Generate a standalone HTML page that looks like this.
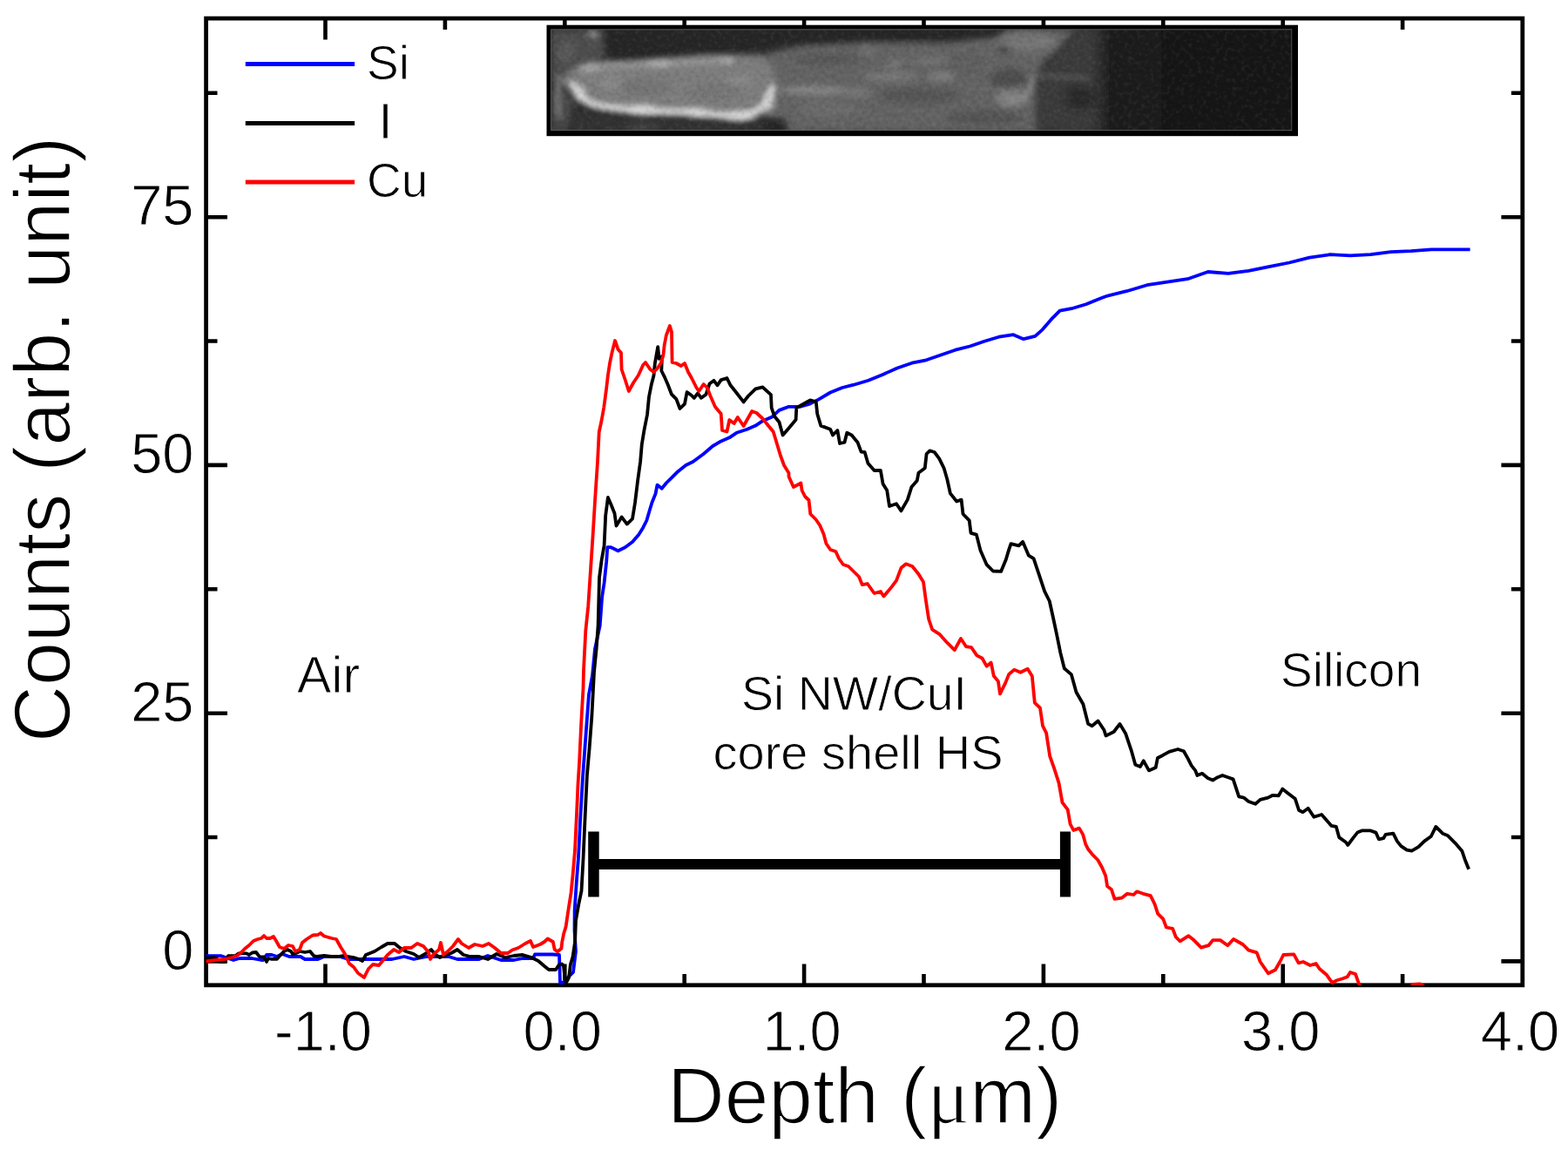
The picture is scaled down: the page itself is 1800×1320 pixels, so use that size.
<!DOCTYPE html>
<html><head><meta charset="utf-8"><title>Depth profile</title>
<style>html,body{margin:0;padding:0;background:#fff;overflow:hidden;}svg{display:block;}text{font-family:'Liberation Sans', Arial, Helvetica, sans-serif;fill:#000;stroke:#fff;stroke-width:0.9px;} text.big{stroke-width:1.5px;}</style></head><body>
<svg width="1800" height="1320" viewBox="0 0 1800 1320">
<defs>
<clipPath id="plot"><rect x="236.6" y="21.1" width="1511.2" height="1109.7"/></clipPath>
<filter id="f2" filterUnits="userSpaceOnUse" x="600" y="0" width="950" height="200"><feGaussianBlur stdDeviation="2"/></filter>
<filter id="f3" filterUnits="userSpaceOnUse" x="600" y="0" width="950" height="200"><feGaussianBlur stdDeviation="3"/></filter>
<filter id="f4" filterUnits="userSpaceOnUse" x="600" y="0" width="950" height="200"><feGaussianBlur stdDeviation="4"/></filter>
<filter id="f7" filterUnits="userSpaceOnUse" x="600" y="0" width="950" height="200"><feGaussianBlur stdDeviation="7"/></filter>
<filter id="noiseL" filterUnits="userSpaceOnUse" x="620" y="25" width="880" height="135"><feTurbulence type="fractalNoise" baseFrequency="0.2" numOctaves="2" seed="7"/><feColorMatrix type="matrix" values="0 0 0 0 1  0 0 0 0 1  0 0 0 0 1  2.5 0 0 0 -1.25"/></filter>
<filter id="noiseD" filterUnits="userSpaceOnUse" x="620" y="25" width="880" height="135"><feTurbulence type="fractalNoise" baseFrequency="0.2" numOctaves="2" seed="7"/><feColorMatrix type="matrix" values="0 0 0 0 0  0 0 0 0 0  0 0 0 0 0  -2.5 0 0 0 1.25"/></filter>
<linearGradient id="tipfade" x1="0" x2="1" y1="0" y2="0"><stop offset="0" stop-color="#1c1c1c" stop-opacity="0"/><stop offset="1" stop-color="#1c1c1c" stop-opacity="1"/></linearGradient>
<clipPath id="semclip"><rect x="633" y="34.2" width="849.5" height="115"/></clipPath>
</defs>
<rect x="0" y="0" width="1800" height="1320" fill="#fff"/>
<path d="M373.5,1130.8V1106.4M373.5,21.1V45.5M510.9,1130.8V1117.9M510.9,21.1V34.0M648.3,1130.8V1106.4M648.3,21.1V45.5M785.7,1130.8V1117.9M785.7,21.1V34.0M923.1,1130.8V1106.4M923.1,21.1V45.5M1060.5,1130.8V1117.9M1060.5,21.1V34.0M1197.9,1130.8V1106.4M1197.9,21.1V45.5M1335.3,1130.8V1117.9M1335.3,21.1V34.0M1472.7,1130.8V1106.4M1472.7,21.1V45.5M1610.1,1130.8V1117.9M1610.1,21.1V34.0M236.6,1103.4H261.0M1747.8,1103.4H1723.4M236.6,961.0H249.5M1747.8,961.0H1734.9M236.6,818.7H261.0M1747.8,818.7H1723.4M236.6,676.3H249.5M1747.8,676.3H1734.9M236.6,533.9H261.0M1747.8,533.9H1723.4M236.6,391.5H249.5M1747.8,391.5H1734.9M236.6,249.2H261.0M1747.8,249.2H1723.4M236.6,106.8H249.5M1747.8,106.8H1734.9" stroke="#000" stroke-width="4.6" fill="none"/>
<rect x="236.6" y="21.1" width="1511.2" height="1109.7" fill="none" stroke="#000" stroke-width="4.8"/>
<g id="sem">
<rect x="627.5" y="28.7" width="862.5" height="127.5" fill="#000"/>
<rect x="632.2" y="33.4" width="851" height="116.6" fill="#666"/>
<g clip-path="url(#semclip)">
<g filter="url(#f2)">
<rect x="620" y="25" width="880" height="135" fill="#2c2c2c"/>
<path d="M880,62 L920,52 L1000,48 L1090,48 L1145,42 L1160,34 L1236,33 L1214,60 L1200,70 L1192,90 L1195,152 L880,152 Z" fill="#646464" filter="url(#f3)"/>
<path d="M633,34 L694,34 L694,62 L686,72 L668,78 L648,86 L633,92 Z" fill="#4e4e4e" filter="url(#f3)"/>
<ellipse cx="681" cy="39" rx="7" ry="4" fill="#858585" filter="url(#f2)"/>
<ellipse cx="650" cy="60" rx="10" ry="12" fill="#5a5a5a" filter="url(#f3)"/>
<path d="M640,92 L652,82 L668,74 L700,69 L760,66 L810,62 L850,62 L880,64 L892,90 L890,125 L870,134 L840,136 L800,133 L760,131 L720,128 L690,124 L672,118 L660,108 L648,100 Z" fill="#7c7c7c" filter="url(#f3)"/>
<g filter="url(#f3)">
<ellipse cx="740" cy="100" rx="30" ry="9" fill="#737373"/>
<ellipse cx="820" cy="105" rx="30" ry="9" fill="#747474"/>
<ellipse cx="700" cy="95" rx="14" ry="8" fill="#888"/>
<ellipse cx="850" cy="92" rx="18" ry="7" fill="#868686"/>
</g>
<path d="M664,80 C690,76 720,74 760,73 C790,72 815,69 842,69" fill="none" stroke="#939393" stroke-width="8" filter="url(#f2)"/>
<ellipse cx="678" cy="78" rx="9" ry="5" fill="#a2a2a2" filter="url(#f2)"/>
<ellipse cx="757" cy="73" rx="14" ry="4" fill="#aaa" filter="url(#f2)"/>
<ellipse cx="835" cy="70" rx="8" ry="4" fill="#a0a0a0" filter="url(#f2)"/>
<path d="M656,94 C660,104 667,113 680,119 C695,124 712,124 728,126 C745,128 762,128 790,128 C810,130 828,133 848,133 C862,132 872,127 879,119 C884,111 886,104 887,98" fill="none" stroke="#d0d0d0" stroke-width="8" filter="url(#f2)"/>
<g filter="url(#f3)" fill="#d8d8d8">
<ellipse cx="666" cy="107" rx="5" ry="9"/>
<ellipse cx="738" cy="126" rx="16" ry="5"/>
<ellipse cx="800" cy="130" rx="12" ry="4"/>
<ellipse cx="850" cy="133" rx="16" ry="5"/>
<ellipse cx="882" cy="117" rx="4" ry="11"/>
</g>
<path d="M633,100 L655,104 L660,118 L652,152 L633,152 Z" fill="#464646" filter="url(#f3)"/>
<path d="M637,86 L643,86 L645,135 L638,135 Z" fill="#747474" filter="url(#f2)"/>
<path d="M658,126 L690,131 L722,134 L760,135 L795,136 L815,139 L840,142 L870,141 L884,137 L898,140 L904,152 L652,152 Z" fill="#303030" filter="url(#f2)"/>
<ellipse cx="738" cy="146" rx="20" ry="5" fill="#424242" filter="url(#f3)"/>
<ellipse cx="890" cy="144" rx="14" ry="9" fill="#262626" filter="url(#f3)"/>
<g filter="url(#f3)">
<ellipse cx="950" cy="68" rx="40" ry="6" fill="#565656"/>
<ellipse cx="996" cy="58" rx="10" ry="6" fill="#707070"/>
<ellipse cx="1027" cy="73" rx="10" ry="4" fill="#7a7a7a"/>
<ellipse cx="1066" cy="70" rx="22" ry="4" fill="#747474"/>
<ellipse cx="935" cy="104" rx="40" ry="5" fill="#888"/>
<ellipse cx="985" cy="106" rx="16" ry="4" fill="#7e7e7e"/>
<ellipse cx="1022" cy="88" rx="32" ry="4" fill="#7e7e7e"/>
<ellipse cx="1080" cy="88" rx="16" ry="4" fill="#868686"/>
<ellipse cx="1055" cy="110" rx="48" ry="10" fill="#575757"/>
<ellipse cx="950" cy="125" rx="35" ry="8" fill="#6c6c6c"/>
<ellipse cx="1060" cy="135" rx="40" ry="7" fill="#636363"/>
<ellipse cx="1110" cy="72" rx="20" ry="12" fill="#5e5e5e"/>
<ellipse cx="1180" cy="48" rx="35" ry="11" fill="#747474"/>
<ellipse cx="1153" cy="57" rx="6" ry="6" fill="#474747"/>
<ellipse cx="1158" cy="90" rx="22" ry="11" fill="#4d4d4d"/>
<ellipse cx="1162" cy="112" rx="20" ry="10" fill="#7e7e7e"/>
<ellipse cx="1130" cy="135" rx="45" ry="9" fill="#545454"/>
</g>
<path d="M1150,118 C1165,118 1178,112 1183,102 C1186,96 1185,90 1186,86" fill="none" stroke="#868686" stroke-width="6" filter="url(#f2)"/>
<path d="M1236,33 L1214,60 L1200,72 L1190,90 L1188,152 L1272,152 L1272,33 Z" fill="#3b3b3b" filter="url(#f4)"/>
<ellipse cx="1240" cy="112" rx="18" ry="14" fill="#2b2b2b" filter="url(#f4)"/>
<path d="M1186,87 C1205,87 1230,88 1250,90" fill="none" stroke="#5c5c5c" stroke-width="4" filter="url(#f2)"/>
<path d="M694,34 L1150,34 L1140,40 L1090,46 L1000,45 L960,47 L920,49 L880,52 L850,60 L810,60 L760,64 L720,68 L700,68 Z" fill="#282828" filter="url(#f3)"/>
<rect x="1252" y="20" width="26" height="145" fill="url(#tipfade)"/>
<rect x="1277" y="20" width="57" height="145" fill="#1c1c1c"/>
<rect x="1333" y="20" width="170" height="145" fill="#141414"/>
</g>
<rect x="633" y="34.2" width="850" height="115" filter="url(#noiseL)" opacity="0.07"/>
<rect x="633" y="34.2" width="850" height="115" filter="url(#noiseD)" opacity="0.10"/>
</g>
</g>
<g clip-path="url(#plot)" fill="none" stroke-width="3.8" stroke-linejoin="round" stroke-linecap="butt">
<polyline stroke="#0000ff" points="236.0,1097.2 254.0,1097.2 262.0,1100.0 268.0,1102.0 275.0,1100.0 289.0,1100.0 300.0,1102.0 302.0,1102.0 306.0,1096.0 312.0,1096.0 318.0,1098.0 324.0,1095.0 332.0,1098.0 345.0,1098.0 350.0,1101.0 365.0,1101.0 372.0,1098.0 390.0,1098.0 400.0,1101.0 416.0,1101.0 420.0,1101.0 450.0,1101.0 464.0,1098.0 475.0,1101.0 490.0,1098.0 515.0,1098.0 525.0,1101.0 550.0,1101.0 560.0,1097.0 575.0,1102.0 590.0,1102.0 600.0,1100.0 612.0,1100.0 614.0,1095.5 634.0,1095.5 642.0,1096.0 643.0,1128.0 646.0,1128.0 658.0,1116.0 661.0,1092.0 659.5,1068.0 659.6,1045.5 661.8,1012.5 664.0,984.0 666.2,940.0 669.0,891.8 672.2,847.8 676.0,797.0 680.0,775.4 683.0,744.8 688.7,718.0 691.1,685.5 693.6,669.0 696.2,644.5 697.3,628.2 701.4,628.2 709.5,632.3 717.7,628.2 726.0,622.0 733.0,613.9 738.2,605.7 742.3,597.5 745.3,587.3 748.4,577.0 752.5,566.8 754.5,556.6 759.7,560.7 764.8,554.5 771.0,548.4 777.0,542.3 787.3,534.0 795.5,530.0 807.7,521.0 818.2,512.0 827.7,506.4 837.3,502.3 845.5,496.8 857.7,492.7 867.3,488.6 875.5,483.2 886.4,478.4 894.5,470.9 905.5,466.8 919.0,466.8 928.6,464.0 939.5,458.6 953.2,450.5 966.8,445.0 980.0,441.7 996.7,436.7 1013.3,430.0 1030.0,422.5 1046.7,416.7 1063.3,413.3 1080.0,407.5 1096.7,401.7 1113.3,397.5 1130.0,391.7 1146.7,386.7 1163.3,384.2 1175.0,389.2 1188.3,385.8 1196.7,378.3 1206.7,366.7 1216.7,356.7 1230.0,354.2 1246.7,349.2 1263.3,342.5 1270.0,340.0 1293.3,334.2 1316.7,327.2 1340.0,323.7 1363.3,320.2 1386.7,312.0 1410.0,313.9 1433.3,310.8 1456.7,306.2 1480.0,301.5 1503.3,295.7 1526.7,292.2 1550.0,293.3 1573.3,292.2 1596.7,289.1 1620.0,288.2 1643.3,286.3 1687.6,286.3"/>
<polyline stroke="#000000" points="236.0,1099.4 248.0,1099.4 252.0,1104.0 258.0,1104.0 262.0,1097.2 270.0,1097.2 274.0,1094.4 283.0,1094.4 286.0,1096.0 290.0,1093.3 294.0,1093.0 298.0,1098.3 303.0,1098.3 305.0,1102.0 306.0,1104.0 308.0,1100.0 312.0,1100.8 318.0,1100.8 322.0,1096.0 326.0,1092.0 330.0,1090.0 334.0,1092.0 336.0,1095.0 340.0,1094.0 344.0,1092.0 350.0,1093.0 356.0,1092.0 360.0,1097.0 364.0,1098.0 372.0,1097.0 380.0,1098.0 388.0,1098.0 394.0,1097.0 400.0,1098.0 406.0,1099.0 412.0,1101.0 416.0,1103.0 420.0,1096.0 430.0,1092.0 438.0,1087.0 445.0,1083.0 453.0,1083.0 459.0,1088.0 466.0,1092.0 475.0,1095.0 481.0,1099.0 488.0,1095.0 495.0,1090.0 500.0,1096.0 505.0,1099.0 510.0,1097.0 518.0,1094.0 525.0,1090.0 532.0,1096.0 540.0,1098.0 550.0,1098.0 560.0,1101.0 570.0,1095.0 580.0,1099.0 590.0,1097.0 600.0,1096.0 610.0,1099.0 618.0,1103.0 625.0,1109.0 630.0,1113.0 638.0,1113.0 642.0,1107.0 645.0,1106.5 647.0,1109.0 648.0,1118.5 650.0,1128.0 653.1,1122.0 654.9,1107.0 657.5,1098.4 660.1,1081.0 661.0,1056.6 664.4,1037.4 667.5,1022.6 669.5,986.0 671.7,936.0 673.9,890.0 676.6,859.0 679.4,821.5 682.0,771.4 684.6,744.8 686.6,718.0 688.0,663.0 690.7,642.5 693.6,626.0 695.2,591.4 697.9,571.0 701.4,579.0 705.5,589.3 707.5,603.6 713.6,593.4 719.8,601.6 726.0,595.5 729.0,577.0 732.0,552.5 735.1,530.0 736.8,510.0 739.5,493.6 743.0,476.0 745.0,455.5 747.7,441.8 750.5,431.0 751.8,417.3 755.2,398.2 756.6,411.8 760.0,409.0 759.3,425.5 762.7,432.3 766.8,441.8 771.0,452.7 776.4,458.2 780.5,469.0 786.0,463.6 788.6,450.0 794.0,454.0 796.8,456.8 801.0,451.4 805.0,456.8 810.5,452.7 814.5,440.5 819.5,436.8 823.6,442.3 827.7,436.1 834.5,434.0 838.6,442.3 844.0,449.0 853.6,461.4 859.0,454.5 867.3,446.4 875.5,444.3 885.0,453.2 885.7,468.2 889.0,477.7 894.5,484.5 898.6,499.5 905.5,491.4 913.6,481.8 914.3,468.2 921.8,464.0 930.0,459.3 936.8,461.4 938.2,475.0 942.3,488.6 953.2,492.7 956.0,499.5 961.4,494.0 964.0,509.0 969.5,507.7 972.3,496.8 977.7,499.5 984.5,507.7 988.6,518.6 992.7,519.0 996.4,531.8 1003.6,540.0 1010.9,540.0 1013.6,555.5 1018.2,562.7 1021.0,581.0 1029.0,578.2 1034.5,586.4 1041.8,573.6 1046.4,559.0 1052.7,551.8 1054.5,542.7 1061.8,537.3 1063.6,521.0 1067.3,517.3 1072.7,519.0 1078.2,526.4 1083.6,537.3 1087.3,550.0 1090.9,566.4 1098.2,575.5 1103.6,573.6 1105.5,590.0 1112.7,597.3 1114.5,611.8 1120.9,613.6 1125.5,631.8 1132.7,648.2 1140.0,655.5 1149.1,655.9 1154.8,642.3 1158.2,630.9 1160.5,624.1 1169.5,626.4 1174.1,621.8 1180.9,637.7 1186.6,641.1 1192.3,658.2 1199.1,678.6 1204.8,690.0 1209.3,710.5 1212.7,726.4 1217.3,749.1 1221.8,767.3 1229.8,774.1 1235.5,794.5 1243.4,808.2 1249.1,830.9 1253.6,833.2 1260.5,827.5 1267.3,837.7 1269.5,844.5 1278.6,840.0 1285.5,830.9 1292.3,842.3 1299.1,862.7 1303.3,877.8 1308.9,880.0 1312.8,873.3 1318.9,884.4 1326.7,881.1 1328.9,870.0 1334.4,867.2 1342.2,862.8 1352.2,860.0 1358.9,862.2 1363.9,871.1 1367.8,878.9 1372.2,884.4 1374.4,890.0 1380.0,887.8 1386.7,893.3 1392.2,895.6 1397.8,892.2 1403.3,890.0 1411.1,892.8 1415.6,894.4 1418.9,904.4 1422.2,914.4 1427.8,915.6 1433.3,920.0 1441.1,922.8 1446.7,917.8 1455.6,915.6 1461.1,912.8 1467.8,913.3 1472.2,905.6 1477.8,910.0 1486.7,916.7 1491.1,930.0 1495.6,932.2 1501.7,927.8 1508.3,937.8 1517.2,935.0 1528.3,947.8 1533.9,948.9 1537.2,961.1 1545.0,966.7 1547.2,970.0 1553.9,961.1 1558.3,955.6 1563.9,953.3 1572.8,953.3 1579.4,955.6 1582.8,963.3 1588.3,962.2 1590.6,957.8 1599.4,956.7 1603.9,965.6 1608.3,971.1 1615.0,975.6 1620.6,976.7 1628.3,972.2 1635.0,965.6 1642.8,960.0 1648.3,948.9 1656.1,956.7 1661.7,958.9 1670.6,967.8 1678.3,976.7 1681.7,986.7 1686.1,997.8"/>
<polyline stroke="#ff0000" points="236.0,1103.5 248.0,1102.0 258.0,1101.0 266.0,1099.0 272.0,1097.0 276.0,1094.0 281.0,1089.0 286.0,1085.0 291.0,1080.0 296.0,1078.0 300.0,1077.0 303.0,1074.0 306.0,1077.0 310.0,1077.0 314.0,1075.0 317.0,1080.0 321.0,1087.0 326.0,1089.0 331.0,1085.0 336.0,1086.0 339.0,1092.0 344.0,1090.0 347.0,1082.0 352.0,1078.0 359.0,1073.5 365.0,1073.0 368.0,1071.0 372.0,1074.5 381.0,1077.0 386.0,1078.0 391.0,1087.0 396.0,1095.0 401.0,1106.0 406.0,1110.0 411.0,1117.0 418.0,1122.0 423.0,1112.0 428.0,1107.0 435.0,1108.0 440.0,1102.0 445.0,1096.0 452.0,1090.0 458.0,1093.0 464.0,1088.0 472.0,1088.0 479.0,1083.0 486.0,1086.0 492.0,1093.0 494.0,1101.0 498.0,1095.0 504.0,1090.0 506.0,1082.0 509.0,1096.0 514.0,1092.0 520.0,1086.0 526.0,1078.0 530.0,1083.0 538.0,1088.0 545.0,1084.0 554.0,1086.0 561.0,1083.0 568.0,1088.0 575.0,1094.0 583.0,1094.0 588.0,1090.5 595.0,1088.0 603.0,1083.0 609.0,1080.0 612.0,1087.0 620.0,1084.0 625.0,1081.0 628.7,1077.5 634.8,1081.0 636.6,1089.7 640.0,1092.3 644.4,1088.8 645.3,1081.0 647.0,1072.3 649.6,1063.6 652.2,1046.0 655.5,1025.0 657.5,1005.0 660.0,976.0 662.0,934.0 663.5,900.0 665.0,876.0 667.3,828.0 669.5,790.0 670.0,769.0 672.3,724.0 675.2,696.0 677.4,663.0 680.5,616.0 683.0,575.0 686.0,530.0 687.7,496.0 690.5,483.0 693.2,468.0 696.0,447.0 698.0,430.0 700.0,417.0 702.7,404.0 706.0,391.0 709.5,401.0 713.0,405.0 713.6,424.0 717.7,436.0 721.8,449.0 727.3,439.0 732.7,431.0 738.2,419.0 741.0,416.0 746.4,424.0 750.5,427.0 754.5,423.0 758.6,417.0 761.4,408.0 762.7,396.0 764.8,385.0 768.9,374.0 771.0,381.0 771.6,416.0 776.4,417.0 781.8,420.0 786.0,417.0 790.0,427.0 794.0,434.0 799.5,445.0 802.3,449.0 807.7,441.0 811.8,445.0 815.5,454.5 821.0,467.0 827.7,475.0 829.0,494.0 834.5,495.5 837.3,482.0 842.7,486.0 846.8,479.0 853.6,489.0 863.2,472.0 868.6,474.0 875.5,480.5 882.3,489.0 887.7,495.5 891.8,509.0 896.0,523.0 900.0,534.0 905.5,543.0 905.5,547.0 910.9,559.0 919.4,554.5 920.6,563.0 924.2,570.0 928.5,574.0 930.3,590.0 936.4,596.0 941.2,603.0 945.5,613.0 948.5,624.0 953.3,631.0 959.4,633.0 963.0,641.0 967.9,648.0 973.9,650.0 980.0,656.0 986.1,662.0 989.7,671.0 995.8,670.0 1003.6,681.0 1010.9,679.0 1014.5,684.5 1023.6,673.6 1029.0,666.4 1034.5,651.8 1040.0,647.3 1047.3,650.0 1054.5,659.0 1060.0,668.0 1062.7,688.0 1066.1,710.5 1070.2,722.7 1078.4,727.8 1086.6,737.0 1095.8,746.2 1103.0,733.0 1109.1,742.2 1115.2,743.2 1121.4,752.4 1127.5,755.5 1132.6,764.7 1137.7,760.6 1140.8,775.9 1145.9,782.0 1148.0,796.4 1154.1,784.1 1158.2,773.9 1164.3,768.7 1171.5,771.8 1179.7,767.7 1184.8,775.9 1187.8,806.6 1194.0,812.7 1197.0,833.2 1201.1,841.4 1205.2,868.0 1210.3,882.3 1215.5,898.6 1219.5,921.1 1225.7,929.3 1228.6,945.8 1232.3,953.0 1238.9,950.6 1243.2,957.9 1246.2,968.8 1249.2,974.8 1254.1,980.9 1260.2,987.0 1265.0,995.5 1269.2,1005.2 1271.1,1017.3 1275.9,1020.9 1279.5,1031.8 1288.0,1030.6 1294.1,1025.8 1301.4,1027.0 1305.0,1023.3 1312.3,1025.8 1320.8,1028.2 1325.6,1037.9 1329.2,1048.8 1335.3,1054.8 1338.9,1064.5 1346.2,1065.8 1349.8,1075.5 1354.7,1080.3 1364.4,1074.2 1370.5,1079.1 1378.9,1087.6 1387.4,1085.2 1392.3,1079.1 1400.8,1079.1 1409.3,1085.3 1416.0,1078.0 1426.7,1084.0 1433.3,1090.7 1442.7,1093.3 1446.7,1104.0 1456.0,1117.3 1464.0,1113.3 1469.3,1104.0 1473.3,1096.0 1485.3,1095.3 1490.7,1105.3 1496.0,1104.0 1504.0,1108.0 1510.7,1106.0 1514.7,1112.0 1522.7,1118.7 1529.3,1128.0 1534.7,1125.3 1541.3,1123.3 1546.7,1121.3 1550.0,1116.0 1556.0,1118.0 1560.0,1129.3 1566.0,1142.0 1590.0,1148.0 1612.0,1140.0 1622.0,1130.0 1630.0,1129.5 1638.0,1134.0 1650.0,1145.0 1688.0,1150.0"/>
</g>
<g fill="#000">
<rect x="681" y="986" width="542" height="12"/>
<rect x="675.2" y="954.5" width="12.5" height="75"/>
<rect x="1216.9" y="954.5" width="12.1" height="75"/>
</g>
<text x="371.0" y="1205.5" font-size="65" text-anchor="middle">-1.0</text>
<text x="645.8" y="1205.5" font-size="65" text-anchor="middle">0.0</text>
<text x="920.6" y="1205.5" font-size="65" text-anchor="middle">1.0</text>
<text x="1195.4" y="1205.5" font-size="65" text-anchor="middle">2.0</text>
<text x="1470.2" y="1205.5" font-size="65" text-anchor="middle">3.0</text>
<text x="1745.0" y="1205.5" font-size="65" text-anchor="middle">4.0</text>
<text x="222.5" y="1112.6" font-size="65" text-anchor="end">0</text>
<text x="222.5" y="827.9" font-size="65" text-anchor="end">25</text>
<text x="222.5" y="543.1" font-size="65" text-anchor="end">50</text>
<text x="222.5" y="258.4" font-size="65" text-anchor="end">75</text>
<text class="big" x="766" y="1289" font-size="91">Depth (<tspan font-family="'Liberation Serif', serif">μ</tspan>m)</text>
<text class="big" transform="translate(79.5,852) rotate(-90)" x="0" y="0" font-size="90">Counts (arb. unit)</text>
<g stroke-width="5">
<line x1="281.8" y1="73.6" x2="407.1" y2="73.6" stroke="#0000ff"/>
<line x1="281.8" y1="141.4" x2="407.1" y2="141.4" stroke="#000"/>
<line x1="281.8" y1="209" x2="407.1" y2="209" stroke="#ff0000"/>
</g>
<text x="421" y="90.8" font-size="55">Si</text>
<text x="434.5" y="158.9" font-size="57.5">I</text>
<text x="421" y="226" font-size="55">Cu</text>
<text x="341" y="795" font-size="59">Air</text>
<text x="1470" y="787.5" font-size="55">Silicon</text>
<text x="980.5" y="815.4" font-size="55.5" text-anchor="middle">Si NW/CuI</text>
<text x="985" y="882.5" font-size="56" text-anchor="middle">core shell HS</text>
</svg></body></html>
